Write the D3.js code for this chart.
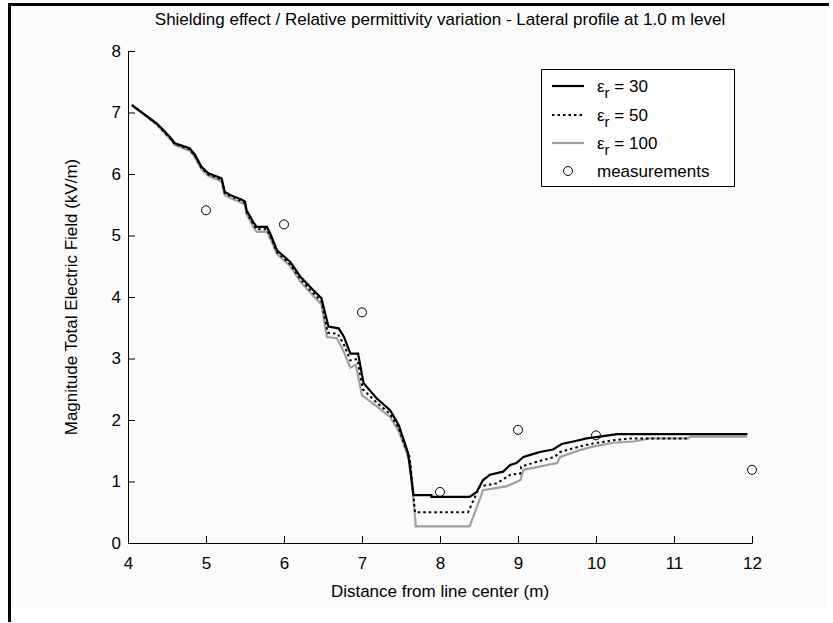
<!DOCTYPE html>
<html><head><meta charset="utf-8">
<script src="https://cdn.jsdelivr.net/npm/d3@7"></script>
<style>body{margin:0;background:#fff}svg{display:block}text{font-family:"Liberation Sans",Arial,sans-serif;fill:#000}</style>
</head><body><svg id="c" width="833" height="623"></svg>
<script>
const titleText = "Shielding effect / Relative permittivity variation - Lateral profile at 1.0 m level";
const xLabel = "Distance from line center (m)";
const yLabel = "Magnitude Total Electric Field (kV/m)";
const xTicks = [4,5,6,7,8,9,10,11,12];
const yTicks = [0,1,2,3,4,5,6,7,8];
const seriesNames = ["30","50","100"];

const er30 = [[4.05,7.12],[4.22,6.96],[4.37,6.82],[4.45,6.72],[4.54,6.60],[4.60,6.50],[4.79,6.42],[4.86,6.31],[4.94,6.12],[5.03,6.01],[5.20,5.93],[5.24,5.71],[5.31,5.66],[5.46,5.58],[5.50,5.55],[5.52,5.41],[5.61,5.21],[5.65,5.14],[5.78,5.14],[5.82,5.04],[5.91,4.76],[6.08,4.57],[6.21,4.33],[6.33,4.17],[6.48,3.98],[6.57,3.52],[6.70,3.49],[6.77,3.35],[6.85,3.08],[6.95,3.08],[7.02,2.60],[7.19,2.35],[7.36,2.16],[7.47,1.92],[7.55,1.62],[7.59,1.46],[7.66,0.78],[7.89,0.78],[7.89,0.75],[8.38,0.75],[8.47,0.83],[8.55,1.02],[8.64,1.11],[8.81,1.16],[8.90,1.27],[8.98,1.30],[9.07,1.40],[9.20,1.45],[9.28,1.48],[9.45,1.52],[9.56,1.61],[9.71,1.65],[9.88,1.70],[10.05,1.73],[10.27,1.77],[11.94,1.77]];

const er50 = [[4.05,7.12],[4.22,6.96],[4.37,6.81],[4.54,6.58],[4.60,6.49],[4.79,6.40],[4.86,6.29],[4.94,6.10],[5.03,5.99],[5.20,5.91],[5.24,5.69],[5.31,5.64],[5.46,5.56],[5.50,5.53],[5.52,5.38],[5.61,5.17],[5.65,5.10],[5.78,5.10],[5.82,5.00],[5.91,4.73],[6.08,4.53],[6.21,4.29],[6.33,4.12],[6.48,3.93],[6.56,3.42],[6.69,3.40],[6.77,3.22],[6.85,2.97],[6.94,2.99],[7.01,2.50],[7.19,2.28],[7.36,2.10],[7.47,1.87],[7.55,1.58],[7.61,1.40],[7.68,0.50],[8.36,0.50],[8.51,0.92],[8.60,0.94],[8.73,0.97],[8.90,1.11],[9.03,1.13],[9.04,1.24],[9.24,1.32],[9.47,1.40],[9.54,1.48],[9.79,1.57],[9.97,1.62],[10.22,1.67],[10.44,1.70],[11.18,1.70]];

const er100 = [[4.05,7.12],[4.22,6.95],[4.37,6.80],[4.54,6.57],[4.60,6.47],[4.79,6.38],[4.86,6.27],[4.94,6.08],[5.03,5.97],[5.20,5.88],[5.24,5.66],[5.31,5.61],[5.46,5.53],[5.50,5.50],[5.52,5.35],[5.61,5.13],[5.65,5.06],[5.78,5.06],[5.82,4.96],[5.91,4.70],[6.08,4.50],[6.21,4.25],[6.33,4.08],[6.48,3.88],[6.55,3.35],[6.68,3.33],[6.77,3.10],[6.85,2.85],[6.92,2.90],[7.00,2.40],[7.19,2.22],[7.36,2.05],[7.47,1.82],[7.55,1.55],[7.62,1.30],[7.69,0.27],[8.38,0.27],[8.53,0.78],[8.55,0.86],[8.85,0.92],[9.03,1.02],[9.07,1.19],[9.50,1.30],[9.54,1.40],[9.79,1.51],[9.97,1.57],[10.22,1.63],[10.48,1.65],[10.69,1.70],[11.18,1.70],[11.21,1.73],[11.94,1.73]];

const measX = [5,6,7,8,9,10,12];
const measY = [5.41,5.18,3.75,0.83,1.84,1.75,1.19];

const svg = d3.select("#c");
// figure background & frame
svg.append("rect").attr("x",10).attr("y",5).attr("width",816).attr("height",603).attr("fill","#fbfbfb");
svg.append("line").attr("x1",8).attr("x2",829).attr("y1",4.5).attr("y2",4.5).attr("stroke","#000").attr("stroke-width",3);
svg.append("line").attr("x1",9.5).attr("x2",9.5).attr("y1",3).attr("y2",622).attr("stroke","#000").attr("stroke-width",3);

const x = d3.scaleLinear().domain([4,12]).range([128,752]);
const y = d3.scaleLinear().domain([0,8]).range([543,51]);

// axes
const gx = svg.append("g").attr("transform","translate(0,543)")
  .call(d3.axisBottom(x).tickValues(xTicks).tickSize(-7).tickPadding(10).tickSizeOuter(0));
const gy = svg.append("g").attr("transform","translate(128,0)")
  .call(d3.axisLeft(y).tickValues(yTicks).tickSize(-7).tickPadding(7).tickSizeOuter(0));
[gx,gy].forEach(g=>{
  g.select(".domain").attr("stroke","#000").attr("stroke-width",1);
  g.selectAll(".tick line").attr("stroke","#000");
  g.selectAll(".tick text").attr("font-family","Liberation Sans, Arial, sans-serif").attr("font-size",17).attr("fill","#000");
});
gx.selectAll(".tick text").attr("dy","0.95em");

const line = d3.line().x(d=>x(d[0])).y(d=>y(d[1]));
svg.append("path").datum(er100).attr("d",line).attr("fill","none").attr("stroke","#a0a0a0").attr("stroke-width",2.2);
svg.append("path").datum(er50).attr("d",line).attr("fill","none").attr("stroke","#000").attr("stroke-width",2).attr("stroke-dasharray","2.5,3");
svg.append("path").datum(er30).attr("d",line).attr("fill","none").attr("stroke","#000").attr("stroke-width",2.2);

svg.append("g").selectAll("circle").data(measX).join("circle")
  .attr("cx",(d)=>x(d)).attr("cy",(d,i)=>y(measY[i])).attr("r",4.5)
  .attr("fill","none").attr("stroke","#000").attr("stroke-width",1);

// title & labels
svg.append("text").attr("x",440).attr("y",25).attr("text-anchor","middle").attr("font-size",17).text(titleText);
svg.append("text").attr("x",440).attr("y",597).attr("text-anchor","middle").attr("font-size",17).text(xLabel);
svg.append("text").attr("transform","translate(77,297) rotate(-90)").attr("text-anchor","middle").attr("font-size",17).text(yLabel);

// legend
const lg = svg.append("g");
lg.append("rect").attr("x",541.5).attr("y",69.5).attr("width",193).attr("height",117).attr("fill","#fff").attr("stroke","#000").attr("stroke-width",1);
const rowsY = [86, 115, 143];
const styles = [{c:"#000",d:null},{c:"#000",d:"2.5,3"},{c:"#a0a0a0",d:null}];
seriesNames.forEach((n,i)=>{
  lg.append("line").attr("x1",552).attr("x2",584).attr("y1",rowsY[i]).attr("y2",rowsY[i])
    .attr("stroke",styles[i].c).attr("stroke-width",2.2).attr("stroke-dasharray",styles[i].d);
  const t = lg.append("text").attr("x",597).attr("y",rowsY[i]+6).attr("font-size",17);
  t.append("tspan").text("ε");
  t.append("tspan").attr("dy",6).attr("font-size",15).text("r");
  t.append("tspan").attr("dy",-6).text(" = "+n);
});
lg.append("circle").attr("cx",568).attr("cy",171).attr("r",4.5).attr("fill","none").attr("stroke","#000");
lg.append("text").attr("x",597).attr("y",177).attr("font-size",17).text("measurements");
</script></body></html>
